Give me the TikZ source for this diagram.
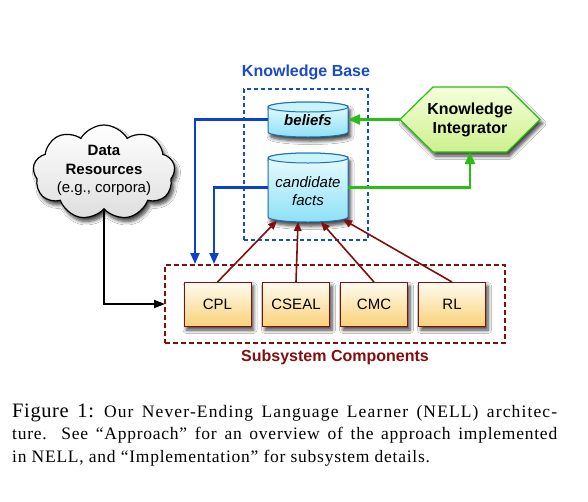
\documentclass[tikz,border=0pt]{standalone}
\usepackage{fontspec}
\setmainfont{Liberation Serif}
\newfontfamily\helv{Liberation Sans}
\usetikzlibrary{arrows.meta,shapes.symbols,shadows.blur,backgrounds}
\definecolor{kbblue}{RGB}{25,75,200}
\definecolor{lnblue}{RGB}{10,65,205}
\definecolor{ssred}{RGB}{130,15,15}
\definecolor{kigreen}{RGB}{40,190,20}
\definecolor{cylborder}{RGB}{30,110,185}
\definecolor{cyltop}{RGB}{238,252,255}
\definecolor{cylbot}{RGB}{140,225,246}
\definecolor{cylcap}{RGB}{200,244,252}
\definecolor{boxtop}{RGB}{255,252,242}
\definecolor{boxbot}{RGB}{248,210,120}
\definecolor{hextop}{RGB}{246,255,220}
\definecolor{hexbot}{RGB}{205,240,140}
\definecolor{cloudbot}{RGB}{222,222,222}
\newcommand\drawcyl[1]{%
  \path[cylbody] ([yshift=-5pt]#1.north west) -- ([yshift=5pt]#1.south west)
    arc[start angle=180,end angle=360,x radius=40pt,y radius=5pt]
    -- ([yshift=-5pt]#1.north east)
    arc[start angle=0,end angle=180,x radius=40pt,y radius=5pt] -- cycle;
  \path[cylcapst] ([yshift=-5pt]#1.north) ellipse[x radius=40pt,y radius=5pt];
}
\newcommand\capfont{\fontsize{17.5}{21}\selectfont\addfontfeature{LetterSpace=4.3}}
\begin{document}
\begin{tikzpicture}[x=1pt,y=-1pt,
  sh/.style={blur shadow={shadow xshift=2.5pt,shadow yshift=-4pt,shadow blur steps=6,shadow blur radius=3.5pt,shadow opacity=75}},
  geom/.style={rectangle,inner sep=0pt,outer sep=0pt},
  lbl/.style={font=\helv\fontsize{15}{18.5}\selectfont,align=center,inner sep=0pt},
  title/.style={font=\helv\bfseries\fontsize{16}{19}\selectfont,inner sep=0pt},
  cylbody/.style={draw=cylborder,line width=1pt,top color=cyltop,bottom color=cylbot,sh},
  cylcapst/.style={draw=cylborder,line width=1pt,fill=cylcap},
  hexst/.style={draw=kigreen,line width=1.2pt,top color=hextop,bottom color=hexbot,sh},
  compbox/.style={geom,draw=ssred,line width=1pt,top color=boxtop,bottom color=boxbot,minimum width=67pt,minimum height=44pt,font=\helv\fontsize{15}{18}\selectfont,sh},
  bluearr/.style={draw=lnblue,line width=2.2pt,-{Triangle[length=11pt,width=9pt]}},
  redarr/.style={draw=ssred,line width=1.6pt,-{Triangle[length=9pt,width=7.5pt]}},
  greenarr/.style={draw=kigreen,line width=2.2pt,-{Triangle[length=12pt,width=10pt]}},
  blackarr/.style={draw=black,line width=1.8pt,-{Triangle[length=11pt,width=8pt]}}
]
\useasboundingbox[fill=white] (0,0) rectangle (588,501);

% knowledge base container
\node[title,text=kbblue] (kbt) at (306,72) {Knowledge Base};
\node[geom,minimum width=124pt,minimum height=151pt,draw=kbblue,line width=1.6pt,dash pattern=on 4pt off 3pt] (kb) at (306,164.5) {};

% geometry nodes
\node[geom,minimum width=80pt,minimum height=35pt] (bel) at (308,119.5) {};
\node[geom,minimum width=80pt,minimum height=69pt] (cf) at (308,187.5) {};
\node[geom,minimum width=140pt,minimum height=65pt] (ki) at (470,119.5) {};

\drawcyl{bel}
\drawcyl{cf}
\path[hexst] (ki.west) -- ([xshift=33pt]ki.north west) -- ([xshift=-33pt]ki.north east)
  -- (ki.east) -- ([xshift=-33pt]ki.south east) -- ([xshift=33pt]ki.south west) -- cycle;

% cloud
\node[cloud,cloud puffs=9,cloud puff arc=120,aspect=1.5,minimum width=142pt,minimum height=95pt,
  draw=black,line width=1.2pt,top color=white,bottom color=cloudbot,sh,inner sep=0pt] (dr) at (104,172.5) {};

% texts
\node[lbl,font=\helv\bfseries\itshape\fontsize{15}{18}\selectfont] (belt) at (308,120) {beliefs};
\node[lbl,font=\helv\itshape\fontsize{15}{18}\selectfont] (cft) at (308,191) {candidate\\facts};
\node[lbl,font=\helv\bfseries\fontsize{16}{19}\selectfont] (kit) at (470,119.5) {Knowledge\\Integrator};
\node[lbl] (drt) at (104,170.5) {\textbf{Data}\\\textbf{Resources}\\(e.g., corpora)};

% subsystem components
\node[geom,minimum width=340pt,minimum height=78pt,draw=ssred,line width=1.8pt,dash pattern=on 5pt off 3pt] (ss) at (335,304) {};
\node[title,text=ssred] (sst) at (335,357) {Subsystem Components};
\node[compbox] (cpl) at (217.5,304) {CPL};
\node[compbox] (cseal) at (296,304) {CSEAL};
\node[compbox] (cmc) at (374,304) {CMC};
\node[compbox] (rl) at (452,304) {RL};

% connector end points
\coordinate (b1) at (195,264);
\coordinate (b2) at (214,264);
\coordinate (t1) at (277,220.5);
\coordinate (t2) at (298,222);
\coordinate (t3) at (321,222);
\coordinate (t4) at (343,219.5);

% connectors
\draw[bluearr] (bel.west) -| (b1);
\draw[bluearr] (cf.west) -| (b2);
\draw[greenarr] (ki.west) -- (bel.east);
\draw[greenarr] (cf.east) -| (ki.south);
\draw[blackarr] (dr.south) |- (ss.west);
\draw[redarr] (cpl.north) -- (t1);
\draw[redarr] (cseal.north) -- (t2);
\draw[redarr] (cmc.north) -- (t3);
\draw[redarr] (rl.north) -- (t4);

% caption
\node[anchor=base west,inner sep=0pt,font=\capfont] (cap1) at (12,417)
  {\makebox[545pt][s]{{\fontsize{20.5}{24}\selectfont\addfontfeature{LetterSpace=3}Figure 1:}\hspace{10pt}\addfontfeature{LetterSpace=6.5}Our Never-Ending Language Learner (NELL) architec-}};
\node[anchor=base west,inner sep=0pt,font=\capfont] (cap2) at (12,439.5)
  {\makebox[545pt][s]{ture. See “Approach” for an overview of the approach implemented}};
\node[anchor=base west,inner sep=0pt,font=\capfont] (cap3) at (12,462)
  {in NELL, and “Implementation” for subsystem details.};
\end{tikzpicture}
\end{document}
